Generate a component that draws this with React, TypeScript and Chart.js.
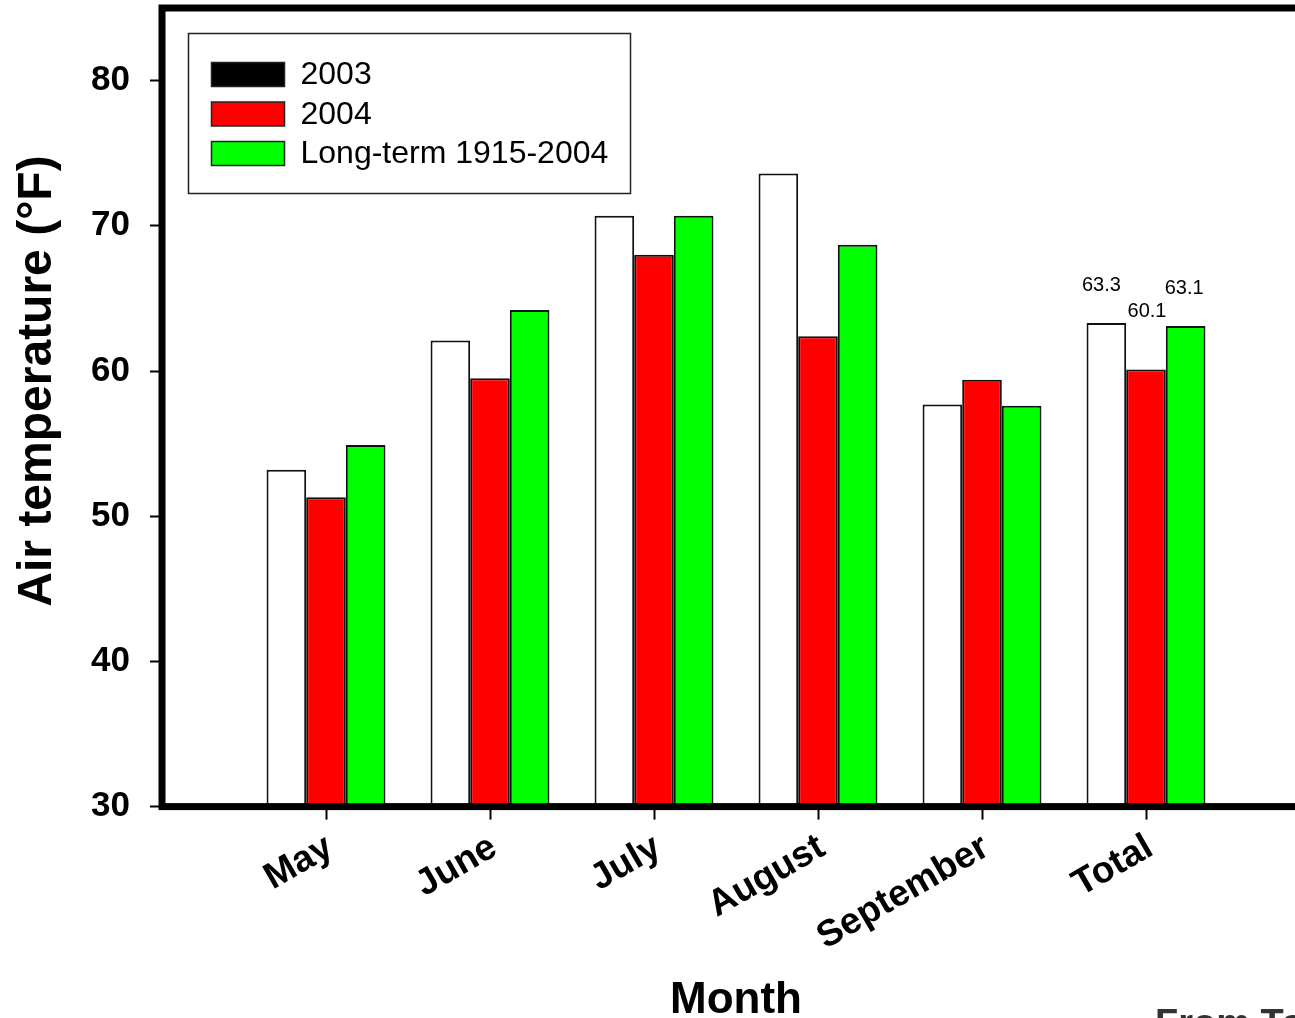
import React, { useEffect, useRef } from 'react';
import { Chart, registerables } from 'chart.js';

Chart.register(...registerables);

// ---- data ----
const months = ['May', 'June', 'July', 'August', 'September', 'Total'];
const series2003 = [53.2, 62.1, 70.7, 73.6, 57.7, 63.3];
const series2004 = [51.3, 59.5, 68.0, 62.4, 59.4, 60.1];
const seriesLongTerm = [54.9, 64.2, 70.7, 68.7, 57.6, 63.1];
const seriesNames = ['2003', '2004', 'Long-term 1915-2004'];
const yTicks = [30, 40, 50, 60, 70, 80];
const totalLabels = ['63.3', '60.1', '63.1'];
const yTitle = 'Air temperature (°F)';
const xTitle = 'Month';
const sourceNote = 'From To';

const FONT = '"Liberation Sans", Arial, Helvetica, sans-serif';

const barFills = ['#ffffff', '#ff0000', '#00ff00'];
const legendFills = ['#000000', '#ff0000', '#00ff00'];

const pad = (arr: (number | null)[]) => [null, ...arr, null];

const decorPlugin = {
  id: 'decor',
  afterDatasetsDraw(chart: any) {
    const { ctx, chartArea: a } = chart;
    ctx.save();

    // frame (drawn over the bars like the original)
    ctx.strokeStyle = '#000';
    ctx.lineWidth = 7;
    ctx.lineJoin = 'miter';
    ctx.strokeRect(a.left, a.top, a.right - a.left, a.bottom - a.top);

    // value labels above the Total group
    ctx.fillStyle = '#000';
    ctx.font = `20px ${FONT}`;
    ctx.textAlign = 'center';
    ctx.textBaseline = 'alphabetic';
    const idx = months.length; // padded index of "Total"
    const lifts = [32, 53, 32];
    const shifts = [-5, 1, -1.5];
    chart.data.datasets.forEach((_ds: any, i: number) => {
      const el = chart.getDatasetMeta(i).data[idx];
      if (el) ctx.fillText(totalLabels[i], el.x + shifts[i], el.y - lifts[i]);
    });

    // legend box
    const lx = a.left + 26.5;
    const ly = a.top + 25.5;
    ctx.lineWidth = 1.5;
    ctx.strokeStyle = '#222';
    ctx.strokeRect(lx, ly, 442, 160);
    ctx.font = `32px ${FONT}`;
    ctx.textAlign = 'left';
    ctx.textBaseline = 'middle';
    seriesNames.forEach((name, i) => {
      const sy = ly + 29 + i * 39.5;
      ctx.fillStyle = legendFills[i];
      ctx.fillRect(lx + 23, sy, 73, 24);
      ctx.strokeStyle = '#222';
      ctx.lineWidth = 1.5;
      ctx.strokeRect(lx + 23, sy, 73, 24);
      ctx.fillStyle = '#000';
      ctx.fillText(name, lx + 112, sy + 13);
    });

    // axis titles
    ctx.fillStyle = '#000';
    ctx.font = `bold 48px ${FONT}`;
    ctx.textAlign = 'center';
    ctx.textBaseline = 'middle';
    ctx.save();
    ctx.translate(38, 381);
    ctx.rotate(-Math.PI / 2);
    ctx.fillText(yTitle, 0, 0);
    ctx.restore();

    ctx.font = `bold 44px ${FONT}`;
    ctx.textBaseline = 'alphabetic';
    ctx.fillText(xTitle, (a.left + a.right) / 2, 1013);

    // clipped source note at the bottom right
    ctx.fillStyle = '#333';
    ctx.font = `bold 38px ${FONT}`;
    ctx.textAlign = 'left';
    ctx.fillText(sourceNote, 1155, 1009 + 0.716 * 38);

    ctx.restore();
  },
};

export default function App() {
  const ref = useRef<HTMLCanvasElement | null>(null);

  useEffect(() => {
    if (!ref.current) return;
    const edgeIdx = months.length + 1;
    const chart = new Chart(ref.current, {
      type: 'bar',
      data: {
        labels: ['', ...months, ''],
        datasets: [series2003, series2004, seriesLongTerm].map((d, i) => ({
          label: seriesNames[i],
          data: pad(d),
          backgroundColor: barFills[i],
          borderColor: '#111',
          borderWidth: 2,
          categoryPercentage: 0.725,
          barPercentage: 1.0,
        })),
      },
      options: {
        animation: false,
        responsive: false,
        devicePixelRatio: 1,
        layout: { padding: { left: 0, top: 8, right: 20, bottom: 0 } },
        plugins: {
          legend: { display: false },
          tooltip: { enabled: false },
        },
        scales: {
          x: {
            type: 'category',
            offset: false,
            border: { display: false },
            grid: {
              offset: false,
              drawOnChartArea: false,
              drawTicks: true,
              tickLength: 13,
              tickWidth: 2,
              tickColor: (c: any) => (c.index === 0 || c.index === edgeIdx ? 'rgba(0,0,0,0)' : '#000'),
            },
            ticks: {
              autoSkip: false,
              maxRotation: 30,
              minRotation: 30,
              padding: 6,
              labelOffset: 4,
              color: '#000',
              font: { family: FONT, size: 37, weight: 'bold' },
            },
            afterFit: (s: any) => {
              s.height = 211.4;
              s.paddingLeft = 0;
              s.paddingRight = 0;
              s.paddingTop = 0;
              s.paddingBottom = 0;
            },
          },
          y: {
            type: 'linear',
            min: 30,
            max: 85,
            border: { display: false },
            grid: {
              drawOnChartArea: false,
              drawTicks: true,
              tickLength: 12,
              tickWidth: 2,
              tickColor: '#000',
            },
            ticks: {
              padding: 20,
              color: '#000',
              font: { family: FONT, size: 35, weight: 'bold' },
            },
            afterBuildTicks: (s: any) => {
              s.ticks = yTicks.map((value) => ({ value }));
            },
            afterFit: (s: any) => {
              s.width = 162;
              s.paddingTop = 0;
              s.paddingBottom = 0;
              s.paddingLeft = 0;
              s.paddingRight = 0;
            },
          },
        },
      },
      plugins: [decorPlugin],
    } as any);
    return () => chart.destroy();
  }, []);

  return (
    <div
      style={{
        position: 'fixed',
        left: 0,
        top: 0,
        width: 1295,
        height: 1018,
        overflow: 'hidden',
        background: '#fff',
      }}
    >
      <canvas ref={ref} width={1330} height={1018} style={{ display: 'block', width: 1330, height: 1018 }} />
    </div>
  );
}
